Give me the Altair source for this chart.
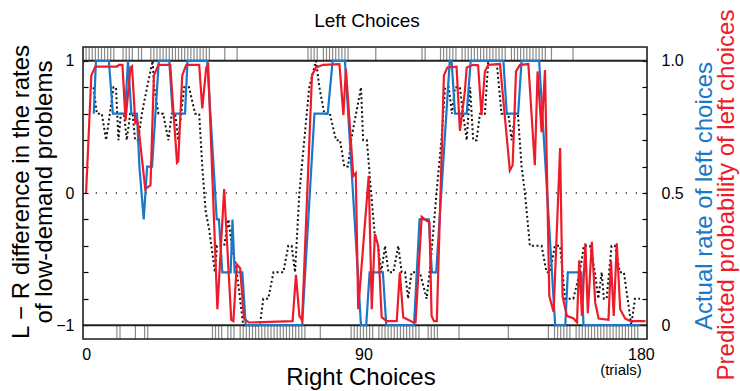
import altair as alt
import pandas as pd

# ---------------- data ----------------
# Actual rate of left choices (blue): trial position, rate
BLUE_T = [2.5, 3.2, 7.4, 8.7, 12.6, 13.6, 14.7, 16.5, 17.3, 18.7, 19.8, 21.4, 23.6, 27.0, 28.1,
          32.1, 32.9, 39.3, 42.4, 43.1, 44.2, 46.9, 47.5, 48.2, 50.7, 51.8, 70.1, 74.1, 78.4,
          80.0, 84.0, 89.2, 90.9, 92.0, 96.3, 97.4, 106.4, 108.2, 111.2, 112.2, 113.6, 118.0,
          118.6, 119.7, 123.5, 124.8, 135.4, 136.5, 140.2, 141.3, 147.0, 152.2, 155.5, 156.3,
          160.7, 161.4, 179.7]
BLUE_V = [0.8, 1.0, 1.0, 0.8, 0.8, 1.0, 0.8, 0.8, 0.6, 0.4, 0.6, 0.6, 1.0, 1.0, 0.8,
          0.8, 1.0, 1.0, 0.4, 0.4, 0.2, 0.2, 0.4, 0.2, 0.2, 0.0, 0.0, 0.8, 0.8,
          1.0, 1.0, 0.0, 0.0, 0.2, 0.2, 0.0, 0.0, 0.4, 0.4, 0.2, 0.2, 1.0,
          1.0, 0.8, 0.8, 1.0, 1.0, 0.8, 0.8, 1.0, 1.0, 0.0, 0.0, 0.2,
          0.2, 0.0, 0.0]

# Predicted probability of left choices (red)
RED_T = [0, 1.7, 3.0, 10.0, 10.7, 11.8, 12.8, 14.4, 14.9, 16.0, 16.5, 17.0, 19.2, 20.9, 22.0,
         23.5, 27.3, 29.5, 29.9, 31.2, 32.5, 36.7, 37.7, 39.0, 39.6, 42.6, 44.8, 47.1, 47.8,
         48.9, 50.0, 51.2, 52.8, 67.0, 68.1, 69.2, 70.1, 73.3, 74.6, 77.0, 82.2, 83.5, 84.3,
         86.7, 87.5, 88.3, 91.7, 92.7, 93.7, 94.8, 95.9, 97.5, 100.8, 101.8, 102.9, 106.2,
         106.9, 108.9, 110.5, 111.4, 112.1, 112.9, 113.8, 116.1, 117.2, 120.2, 121.3, 122.9,
         123.5, 125.6, 127.2, 128.3, 129.4, 130.5, 134.3, 137.5, 138.4, 139.5, 140.8, 143.5,
         145.6, 146.5, 147.8, 148.9, 150.3, 151.7, 153.8, 154.6, 156.0, 158.2, 159.3, 160.0,
         160.9, 162.0, 162.8, 164.1, 165.2, 166.3, 169.5, 170.3, 171.2, 172.2, 173.3, 174.9,
         176.6, 181.5]
RED_P = [0.5, 0.945, 0.978, 0.978, 0.985, 0.985, 0.775, 0.975, 0.98, 0.76, 0.78, 0.75, 0.515,
         0.53, 0.945, 0.985, 0.985, 0.615, 0.62, 0.945, 0.985, 0.985, 0.82, 0.975, 0.985, 0.06,
         0.515, 0.02, 0.015, 0.23, 0.215, 0.025, 0.01, 0.015, 0.19, 0.035, 0.018, 0.945, 0.975,
         0.985, 0.988, 0.795, 0.97, 0.565, 0.575, 0.06, 0.565, 0.06, 0.345, 0.30, 0.03, 0.015,
         0.015, 0.20, 0.03, 0.01, 0.01, 0.41, 0.395, 0.39, 0.035, 0.015, 0.015, 0.945, 0.975,
         0.978, 0.735, 0.885, 0.975, 0.985, 0.983, 0.795, 0.96, 0.985, 0.988, 0.585, 0.605,
         0.96, 0.985, 0.988, 0.605, 0.96, 0.73, 0.965, 0.11, 0.05, 0.67, 0.11, 0.035, 0.025,
         0.01, 0.245, 0.035, 0.31, 0.045, 0.315, 0.085, 0.025, 0.02, 0.245, 0.035, 0.31, 0.06,
         0.025, 0.015, 0.015]

# L - R difference in the rates of low-demand problems (black dotted)
DIFF_T = [2.4, 3.5, 5.1, 6.5, 8.9, 9.7, 10.5, 11.3, 12.3, 13.2, 14.3, 15.1, 15.9, 16.9, 18.1,
          19.8, 21.6, 22.1, 23.5, 25.0, 26.7, 27.8, 28.9, 29.9, 31.8, 33.4, 35.4, 36.7, 37.7,
          38.8, 39.9, 41.8, 42.5, 44.8, 46.2, 47.3, 48.9, 51.0, 56.4, 57.5, 59.1, 60.8, 64.0,
          65.6, 66.7, 67.8, 69.2, 70.8, 72.4, 74.6, 75.7, 77.3, 79.1, 81.1, 82.4, 83.8, 85.0,
          86.0, 87.6, 89.2, 89.9, 91.1, 92.5, 93.6, 94.7, 95.8, 97.0, 98.1, 99.7, 101.3, 102.4,
          103.5, 104.5, 105.6, 108.3, 110.5, 111.9, 113.7, 115.3, 116.5, 117.7, 118.7, 119.7,
          121.3, 122.3, 123.5, 124.6, 125.6, 126.7, 127.8, 129.4, 130.5, 133.2, 134.8, 137.0,
          138.1, 139.2, 140.1, 141.3, 142.4, 144.0, 147.8, 149.4, 150.5, 152.1, 153.8, 155.4,
          158.1, 160.2, 161.5, 163.5, 165.1, 166.2, 167.3, 168.0, 168.9, 170.5, 171.6, 173.2,
          174.5, 176.9, 178.1, 179.7]
DIFF_V = [0.8, 0.6, 0.6, 0.4, 0.8, 0.8, 0.4, 0.6, 0.6, 0.4, 0.6, 0.6, 0.4, 0.4, 0.6,
          0.8, 1.0, 0.8, 0.6, 0.6, 0.4, 0.6, 0.6, 0.4, 0.8, 0.8, 0.6, 0.6, 0.2,
          -0.14, -0.27, -0.6, -0.4, -0.4, -0.2, -0.4, -0.6, -1.0, -1.0, -0.8, -0.8, -0.6, -0.6,
          -0.4, -0.4, -0.6, 0.0, 0.4, 0.8, 1.0, 0.8, 0.6, 0.6, 0.4, 0.4, 0.2, 0.2,
          0.4, 0.6, 0.8, 0.4, 0.4, 0.0, -0.3, -0.4, -0.6, -0.4, -0.6, -0.6, -0.4, -0.6,
          -0.6, -0.8, -0.6, -0.6, -0.8, -0.5, 0.0, 0.4, 0.8, 0.8, 0.6, 0.8,
          0.8, 0.6, 0.4, 0.8, 0.4, 0.4, 0.6, 0.6, 1.0, 1.0, 0.6, 0.6,
          0.4, 0.6, 0.6, 0.2, 0.0, -0.4, -0.4, -0.6, -0.6, -0.4, -0.4, -0.8,
          -0.8, -0.6, -0.4, -0.4, -0.6, -0.8, -0.6, -0.8, -0.8, -0.4, -0.4, -0.6,
          -0.6, -1.0, -0.8, -0.8]

# Trials (runs, inclusive) with a left choice (top strip) and a right choice (bottom strip)
LEFT_RUNS = [(0, 9), (12, 15), (17, 18), (21, 40), (45, 45), (49, 49), (72, 75), (77, 85),
             (94, 94), (109, 110), (115, 120), (122, 136), (138, 149), (151, 151), (158, 158)]
RIGHT_RUNS = [(10, 11), (16, 16), (19, 20), (41, 44), (46, 48), (50, 71), (76, 76), (86, 93),
              (95, 108), (111, 114), (121, 121), (137, 137), (150, 150), (152, 157), (159, 179)]

X_TICKS = [0, 90, 180]
LEFT_TICKS = [-1, -0.8, -0.6, -0.4, -0.2, 0, 0.2, 0.4, 0.6, 0.8, 1]
RIGHT_TICKS = [0, 0.1, 0.2, 0.3, 0.4, 0.5, 0.6, 0.7, 0.8, 0.9, 1.0]

# ---------------- tables ----------------
blue_df = pd.DataFrame({"t": BLUE_T, "v": BLUE_V})
red_df = pd.DataFrame({"t": RED_T, "v": RED_P})
diff_df = pd.DataFrame({"t": DIFF_T, "v": DIFF_V})
rug_rows = []
for a, b in LEFT_RUNS:
    for k in range(a, b + 1):
        rug_rows.append({"trial": k, "side": "L", "edge": 1})
for a, b in RIGHT_RUNS:
    for k in range(a, b + 1):
        rug_rows.append({"trial": k, "side": "R", "edge": -1})
rug_df = pd.DataFrame(rug_rows)
sep_df = pd.DataFrame({"y": [1, -1]})
zero_df = pd.DataFrame({"y": [0]})
one = pd.DataFrame({"a": [0]})

W, H = 564, 292
FONT = "Liberation Sans"
BLUE = "#1a78c8"
RED = "#ec1c2a"

xs = alt.Scale(domain=[-1, 182], nice=False, zero=False)
yl = alt.Scale(domain=[-1.105, 1.105], nice=False, zero=False)
yr = alt.Scale(domain=[-0.0525, 1.0525], nice=False, zero=False)

x_axis = alt.Axis(values=X_TICKS, ticks=False, domain=False, grid=False, labelFontSize=16,
                  labelPadding=7, title=None, labelFont=FONT, labelColor="black")
left_axis = alt.Axis(values=LEFT_TICKS, grid=False, domain=False, tickSize=5, offset=-5,
                     tickColor="black", tickWidth=1.2, labelFontSize=16, labelFont=FONT,
                     labelColor="black", labelPadding=9, title=None,
                     labelExpr="datum.value == 1 ? '1' : datum.value == 0 ? '0' : datum.value == -1 ? '\u22121' : ''")
right_axis = alt.Axis(orient="right", values=RIGHT_TICKS, grid=False, domain=False, tickSize=5,
                      offset=-5, tickColor="black", tickWidth=1.2, labelFontSize=16,
                      labelFont=FONT, labelColor="black", labelPadding=14, title=None,
                      labelExpr="datum.value == 0 ? '0' : datum.value == 0.5 ? '0.5' : datum.value == 1 ? '1.0' : ''")

X = alt.X("t:Q", scale=xs, axis=x_axis)

zero_line = alt.Chart(zero_df).mark_rule(color="#333", strokeWidth=1.3, strokeDash=[1.3, 8.7]).encode(
    y=alt.Y("y:Q", scale=yl, axis=left_axis))
seps = alt.Chart(sep_df).mark_rule(color="#222", strokeWidth=2).encode(
    y=alt.Y("y:Q", scale=yl, axis=left_axis))
rug_top = alt.Chart(rug_df).transform_filter("datum.side == 'L'").mark_rule(
    color="#8a8a8a", strokeWidth=1.2).encode(
    x=alt.X("trial:Q", scale=xs, axis=x_axis),
    y=alt.Y("edge:Q", scale=yl, axis=left_axis), y2=alt.value(0))
rug_bot = alt.Chart(rug_df).transform_filter("datum.side == 'R'").mark_rule(
    color="#8a8a8a", strokeWidth=1.2).encode(
    x=alt.X("trial:Q", scale=xs, axis=x_axis),
    y=alt.Y("edge:Q", scale=yl, axis=left_axis), y2=alt.value(H))
diff_line = alt.Chart(diff_df).mark_line(color="#111", strokeWidth=2, strokeDash=[2, 2.6]).encode(
    x=X, y=alt.Y("v:Q", scale=yl, axis=left_axis))

left_group = alt.layer(zero_line, rug_top, rug_bot, seps, diff_line)

blue_line = alt.Chart(blue_df).mark_line(color=BLUE, strokeWidth=2.2).encode(
    x=X, y=alt.Y("v:Q", scale=yr, axis=right_axis))
red_line = alt.Chart(red_df).mark_line(color=RED, strokeWidth=2.2).encode(
    x=X, y=alt.Y("v:Q", scale=yr, axis=right_axis))
right_group = alt.layer(blue_line, red_line)

frame = alt.Chart(one).mark_rect(filled=False, stroke="#222", strokeWidth=1.6).encode(
    x=alt.value(0), x2=alt.value(W), y=alt.value(0), y2=alt.value(H))


def label(text, x, y, size, color="black", angle=0):
    return alt.Chart(one).mark_text(fontSize=size, font=FONT, color=color, angle=angle,
                                    align="center", baseline="middle").encode(
        x=alt.value(x), y=alt.value(y), text=alt.value(text))


texts = [
    label("Left Choices", 284, -26, 19),
    label("Right Choices", 278, 331, 24),
    label("(trials)", 538, 323, 15),
    label("L \u2212 R difference in the rates", -61, 145, 24, angle=270),
    label("of low-demand problems", -38, 145, 24, angle=270),
    label("Actual rate of left choices", 622, 149, 24, color=BLUE, angle=270),
    label("Predicted probability of left choices", 644, 148, 24, color=RED, angle=270),
]

chart = alt.layer(left_group, right_group, frame, *texts).resolve_scale(y="independent").properties(
    width=W, height=H, autosize="none",
    padding={"left": 83, "top": 47, "right": 93, "bottom": 52},
).configure_view(stroke=None).configure(background="white")

chart.save("out.html", embed_options={"renderer": "svg", "actions": False})
